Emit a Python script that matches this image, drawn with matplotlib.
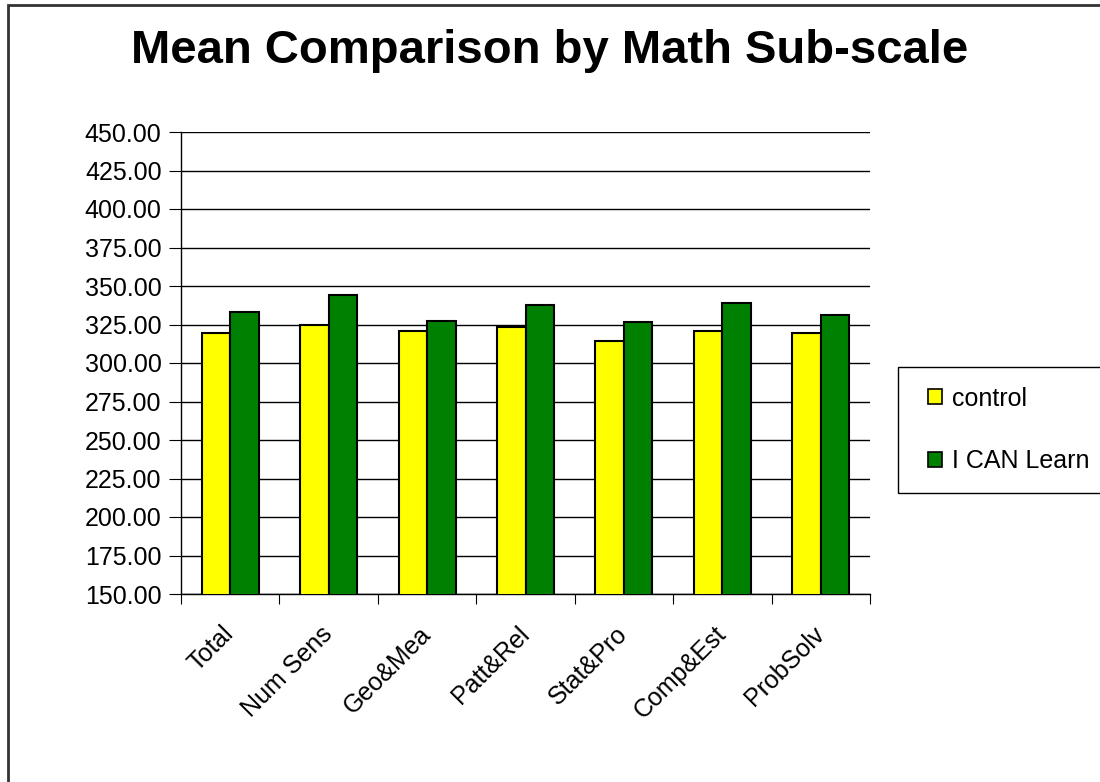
import matplotlib
matplotlib.use("Agg")
import matplotlib.pyplot as plt
import numpy as np
from matplotlib.patches import Rectangle

categories = ["Total", "Num Sens", "Geo&Mea", "Patt&Rel", "Stat&Pro", "Comp&Est", "ProbSolv"]
control = [319.7, 324.5, 320.8, 323.2, 314.1, 320.6, 319.3]
ican = [333.3, 344.0, 327.1, 337.5, 326.8, 338.8, 331.2]
yticks = np.arange(150, 451, 25)

plt.rcParams['font.family'] = ['Liberation Sans', 'DejaVu Sans']

fig = plt.figure(figsize=(11, 7.82), dpi=100)
ax = fig.add_axes([181/1100, 1-594/782, 689/1100, 462/782])

x = np.arange(len(categories))
w = 0.29
ax.bar(x - w/2, control, w, color='#FFFF00', edgecolor='black', linewidth=1.5, label='control', zorder=3)
ax.bar(x + w/2, ican, w, color='#008000', edgecolor='black', linewidth=1.5, label='I CAN Learn', zorder=3)

ax.set_ylim(150, 450)
ax.set_xlim(-0.5, len(categories) - 0.5)
ax.set_yticks(yticks)
ax.set_yticklabels([f"{v:.2f}" for v in yticks], fontsize=18)
ax.yaxis.grid(True, color='black', linewidth=1, zorder=0)
ax.set_axisbelow(True)

ax.set_xticks(np.arange(len(categories) + 1) - 0.5)
ax.set_xticklabels([])
ax.set_xticks(x, minor=True)
ax.set_xticklabels(categories, minor=True, rotation=45, ha='right', va='center',
                   rotation_mode='anchor', fontsize=18)
ax.tick_params(axis='x', which='minor', length=0, pad=26)
ax.tick_params(axis='x', which='major', length=7, direction='out', color='black')
ax.tick_params(axis='y', length=9, direction='out', color='black', pad=5)

for s in ['top', 'right']:
    ax.spines[s].set_visible(False)
for s in ['left', 'bottom']:
    ax.spines[s].set_color('black')
    ax.spines[s].set_linewidth(1)

fig.text(0.5, 1-63/782, "Mean Comparison by Math Sub-scale", ha='center', va='baseline',
         fontsize=34, fontweight='bold')

leg = fig.legend(loc='center left', bbox_to_anchor=(928/1100, 1-430/782),
                 fontsize=18, frameon=False,
                 handlelength=0.55, handleheight=0.55, handletextpad=0.4,
                 labelspacing=1.55, borderpad=0, borderaxespad=0)
for h in leg.legend_handles:
    h.set_linewidth(1.2)

fig.patches.append(Rectangle((898/1100, 1-493/782), 0.2, 126/782, transform=fig.transFigure,
                             fill=False, edgecolor='black', linewidth=1))
fig.patches.append(Rectangle((8/1100, -0.1), 1.2, 1.1 - 5/782, transform=fig.transFigure,
                             fill=False, edgecolor='#333333', linewidth=2))

fig.savefig("out.png", dpi=100)
